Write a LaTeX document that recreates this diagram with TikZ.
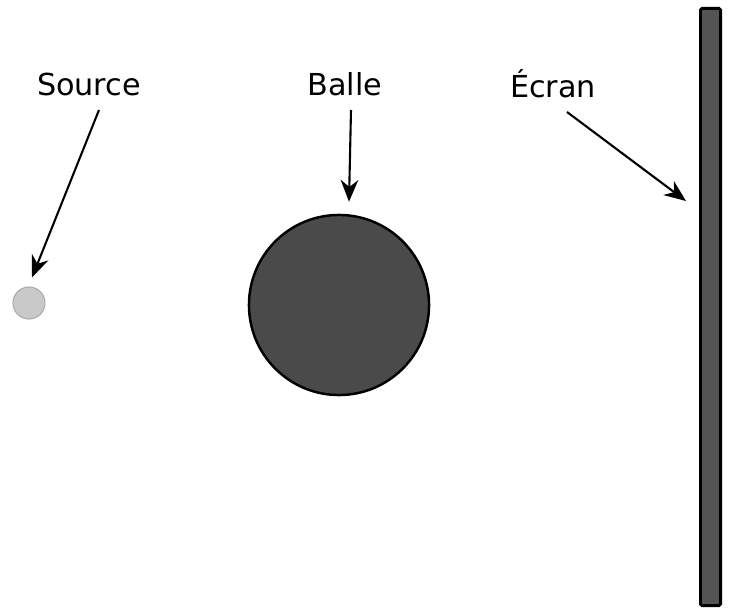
\documentclass[tikz,border=0pt]{standalone}
\usepackage{fontspec}
\setmainfont{DejaVu Sans}
\usetikzlibrary{arrows.meta}
\definecolor{balle}{rgb}{0.29,0.29,0.29}
\definecolor{ecran}{rgb}{0.33,0.33,0.33}
\definecolor{source}{rgb}{0.79,0.79,0.79}

\begin{document}
\begin{tikzpicture}[x=0.01cm,y=-0.01cm,
    lbl/.style={font=\fontsize{8.6}{10}\selectfont, inner sep=0pt},
    pointer/.style={-{Stealth[length=6.2pt,width=5pt]}, line width=0.6pt}]
    \useasboundingbox (0,0) rectangle (730,609);
    % objects
    \node[circle, fill=source, draw=source!85!black, line width=0.3pt, inner sep=0pt, minimum size=0.32cm] (source) at (29,303) {};
    \node[circle, fill=balle, draw=black, line width=0.7pt, minimum size=1.80cm, inner sep=0pt] (balle) at (339,305) {};
    \node[rectangle, rounded corners=0.5pt, fill=ecran, draw=black, line width=0.85pt, minimum width=0.20cm, minimum height=5.97cm, inner sep=0pt] (ecran) at (710.5,307) {};
    % labels
    \node[lbl] (srclbl) at (89,84) {Source};
    \node[lbl] (ballelbl) at (345,84) {Balle};
    \node[lbl] (ecranlbl) at (553,84) {Écran};
    % arrows
    \coordinate (srcfrom) at (99,110);
    \coordinate (ballefrom) at (351,110);
    \coordinate (ecranfrom) at (567,112);
    \draw[pointer] (srcfrom) -- ([shift={(3,-9)}]source.north);
    \draw[pointer] (ballefrom) -- ([shift={(10,-12)}]balle.north);
    \draw[pointer] (ecranfrom) -- ([shift={(-13,-106)}]ecran.west);
\end{tikzpicture}
\end{document}
